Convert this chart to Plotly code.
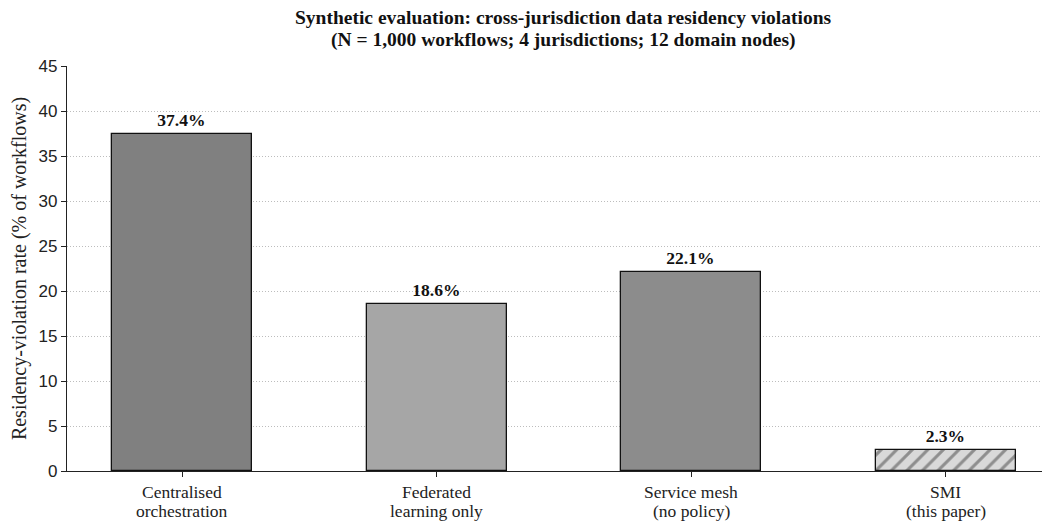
import plotly.graph_objects as go

categories = ["Centralised<br>orchestration", "Federated<br>learning only", "Service mesh<br>(no policy)", "SMI<br>(this paper)"]
values = [37.4, 18.6, 22.1, 2.3]
labels = ["37.4%", "18.6%", "22.1%", "2.3%"]
colors = ["#808080", "#a6a6a6", "#8c8c8c", "#d9d9d9"]
patterns = ["", "", "", "/"]
yticks = [0, 5, 10, 15, 20, 25, 30, 35, 40, 45]
title_lines = ["Synthetic evaluation: cross-jurisdiction data residency violations",
               "(N = 1,000 workflows; 4 jurisdictions; 12 domain nodes)"]

serif = "Liberation Serif"

# The page body has an 8px margin; size the figure so the visible window matches.
W, H = 1042, 515
L, R, T, B = 59, 0, 58, 52
PH = H - T - B


def paper_y(fig_px):
    # convert a figure-pixel y (from top) to paper coordinates
    return (H - B - fig_px) / PH


fig = go.Figure()
fig.add_trace(go.Bar(
    x=list(range(len(categories))),
    y=values,
    width=0.55,
    marker=dict(
        color=colors,
        line=dict(color="#111111", width=1.3),
        pattern=dict(shape=patterns, fgcolor="#111111", bgcolor=colors, size=11, solidity=0.28),
    ),
    text=labels,
    textposition="outside",
    textfont=dict(family=serif, size=17.5, color="#111111"),
    texttemplate="<b>%{text}</b>",
    cliponaxis=False,
    hoverinfo="skip",
))

annotations = []
for i, t in enumerate(title_lines):
    annotations.append(dict(
        text=f"<b>{t}</b>", xref="paper", yref="paper",
        x=(555 - L) / (W - L - R), y=paper_y(9 + 23 * i),
        xanchor="center", yanchor="middle", showarrow=False,
        font=dict(family=serif, size=19.5, color="#111111"),
    ))
for i, c in enumerate(categories):
    for j, line in enumerate(c.split("<br>")):
        annotations.append(dict(
            text=line, xref="x", yref="paper", x=i, y=paper_y(484 + 19 * j),
            xanchor="center", yanchor="middle", showarrow=False,
            font=dict(family=serif, size=17.5, color="#222222"),
        ))

fig.update_layout(
    width=W, height=H,
    margin=dict(l=L, r=R, t=T, b=B, autoexpand=False),
    paper_bgcolor="white", plot_bgcolor="white",
    showlegend=False,
    bargap=0,
    annotations=annotations,
    xaxis=dict(
        range=[-0.452, 3.41],
        tickmode="array",
        tickvals=list(range(len(categories))),
        ticktext=[""] * len(categories),
        ticks="outside", ticklen=5, tickwidth=1.2, tickcolor="#222222",
        showline=True, linecolor="#222222", linewidth=1.2,
        showgrid=False, zeroline=False,
    ),
    yaxis=dict(
        range=[0, 45],
        tickmode="array", tickvals=yticks,
        ticks="outside", ticklen=5, tickwidth=1.2, tickcolor="#222222",
        showline=True, linecolor="#222222", linewidth=1.2,
        showgrid=True, gridcolor="#bdbdbd", griddash="1px,2px", gridwidth=1,
        zeroline=False,
        tickfont=dict(family="Liberation Sans", size=17, color="#222222"),
        title=dict(text="Residency-violation rate (% of workflows)", font=dict(family=serif, size=20, color="#222222"), standoff=8),
    ),
)

fig.write_html("out.html")
